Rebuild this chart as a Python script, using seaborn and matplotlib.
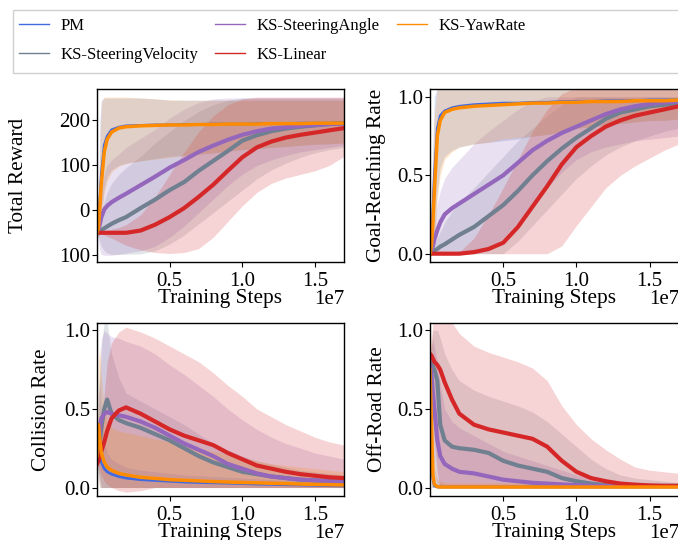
import matplotlib
matplotlib.use("Agg")
import matplotlib.pyplot as plt
from matplotlib.lines import Line2D
from matplotlib.patches import Rectangle
import seaborn as sns
import numpy as np

plt.rcParams['font.family'] = ['Liberation Serif', 'DejaVu Serif']

# ---------------- data (x in units of 1e7 training steps) ----------------
steps_1e7 = [0.0, 0.01, 0.02, 0.03, 0.05, 0.07, 0.1, 0.15, 0.2, 0.3, 0.4, 0.5,
             0.6, 0.7, 0.8, 0.9, 1.0, 1.1, 1.2, 1.3, 1.4, 1.5, 1.6, 1.7]

methods = ["PM", "KS-SteeringVelocity", "KS-SteeringAngle", "KS-Linear", "KS-YawRate"]
colors = ["#4169e1", "#708090", "#9467bd", "#d62728", "#ff8c00"]

# Total Reward
rew_pm = [-50, -30, 25, 80, 145, 165, 179, 185, 188, 189, 190, 190, 191, 191, 192, 192, 192, 193, 193, 193, 194, 194, 194, 195]
rew_sv = [-50, -48, -46, -44, -40, -36, -30, -22, -15, 5, 24, 45, 63, 88, 110, 132, 155, 167, 176, 182, 186, 189, 192, 194]
rew_sa = [-50, -42, -30, -15, 2, 10, 18, 28, 37, 56, 75, 95, 112, 130, 144, 157, 168, 176, 182, 185, 188, 190, 192, 193]
rew_lin = [-50, -50, -50, -50, -50, -50, -50, -50, -50, -45, -32, -15, 5, 30, 57, 88, 118, 140, 153, 162, 168, 173, 178, 183]
rew_yr = [-50, -40, 10, 60, 130, 158, 174, 183, 186, 188, 189, 190, 190, 191, 191, 192, 192, 192, 193, 193, 193, 194, 194, 194]

rew_pm_lo = [-50, -60, -40, 0, 50, 75, 90, 100, 105, 110, 115, 120, 122, 125, 128, 132, 135, 138, 140, 142, 145, 147, 148, 150]
rew_pm_hi = [-50, 0, 200, 245, 250, 250, 250, 250, 250, 250, 248, 245, 245, 245, 245, 245, 245, 245, 245, 245, 245, 245, 245, 245]
rew_sv_lo = [-50, -60, -70, -80, -90, -95, -98, -98, -98, -97, -90, -75, -55, -30, -5, 20, 45, 70, 90, 105, 118, 128, 135, 140]
rew_sv_hi = [-50, -40, -20, 0, 20, 40, 60, 80, 95, 120, 150, 175, 200, 220, 235, 245, 250, 250, 250, 250, 250, 250, 250, 250]
rew_sa_lo = [-50, -70, -90, -98, -100, -100, -100, -98, -95, -90, -80, -60, -35, -5, 25, 55, 80, 100, 112, 122, 130, 135, 140, 145]
rew_sa_hi = [-50, -20, 20, 50, 80, 100, 112, 125, 140, 160, 180, 205, 225, 240, 248, 250, 250, 250, 250, 250, 250, 250, 250, 250]
rew_lin_lo = [-50, -50, -50, -52, -55, -58, -62, -70, -78, -88, -94, -96, -94, -85, -60, -25, 10, 40, 60, 72, 80, 88, 100, 120]
rew_lin_hi = [-50, -50, -50, -48, -46, -44, -42, -38, -32, -10, 30, 80, 130, 175, 210, 235, 248, 252, 252, 252, 252, 252, 252, 252]
rew_yr_lo = [-50, -60, -50, -20, 40, 65, 85, 98, 104, 110, 114, 118, 122, 125, 128, 132, 135, 138, 140, 142, 145, 147, 148, 150]
rew_yr_hi = [-50, -10, 150, 240, 252, 252, 252, 252, 252, 250, 248, 246, 245, 245, 245, 245, 245, 245, 245, 245, 245, 245, 245, 245]

# Goal-Reaching Rate
goal_pm = [0, 0.06, 0.28, 0.5, 0.8, 0.88, 0.91, 0.93, 0.94, 0.95, 0.955, 0.96, 0.96, 0.965, 0.965, 0.97, 0.97, 0.97, 0.975, 0.975, 0.975, 0.98, 0.98, 0.98]
goal_sv = [0, 0.005, 0.01, 0.02, 0.03, 0.045, 0.06, 0.09, 0.12, 0.17, 0.24, 0.31, 0.4, 0.5, 0.59, 0.67, 0.74, 0.8, 0.86, 0.9, 0.92, 0.94, 0.95, 0.96]
goal_sa = [0, 0.02, 0.05, 0.09, 0.15, 0.2, 0.25, 0.29, 0.32, 0.38, 0.44, 0.5, 0.58, 0.66, 0.72, 0.77, 0.81, 0.85, 0.89, 0.92, 0.94, 0.955, 0.965, 0.97]
goal_lin = [0, 0, 0, 0, 0, 0, 0, 0, 0, 0.01, 0.03, 0.07, 0.17, 0.3, 0.43, 0.57, 0.68, 0.75, 0.81, 0.85, 0.88, 0.9, 0.92, 0.94]
goal_yr = [0, 0.05, 0.2, 0.4, 0.75, 0.85, 0.9, 0.92, 0.93, 0.94, 0.945, 0.95, 0.955, 0.96, 0.96, 0.965, 0.965, 0.97, 0.97, 0.97, 0.975, 0.975, 0.975, 0.98]

goal_pm_lo = [0, 0, 0, 0.1, 0.4, 0.55, 0.62, 0.66, 0.68, 0.7, 0.71, 0.72, 0.73, 0.75, 0.76, 0.78, 0.8, 0.81, 0.82, 0.83, 0.84, 0.85, 0.85, 0.86]
goal_pm_hi = [0, 0.3, 0.7, 1.0, 1.06, 1.06, 1.06, 1.06, 1.06, 1.06, 1.06, 1.06, 1.06, 1.06, 1.06, 1.06, 1.06, 1.06, 1.06, 1.06, 1.06, 1.06, 1.06, 1.06]
goal_sv_lo = [0, 0, 0, 0, 0, 0, 0, 0, 0, 0, 0, 0, 0.08, 0.18, 0.28, 0.38, 0.48, 0.56, 0.63, 0.68, 0.72, 0.75, 0.78, 0.8]
goal_sv_hi = [0, 0.02, 0.04, 0.06, 0.1, 0.14, 0.2, 0.27, 0.33, 0.42, 0.52, 0.62, 0.72, 0.8, 0.88, 0.95, 1.0, 1.0, 1.0, 1.0, 1.0, 1.0, 1.0, 1.0]
goal_sa_lo = [0, 0, 0, 0, 0, 0, 0, 0, 0, 0, 0.02, 0.1, 0.2, 0.3, 0.42, 0.52, 0.6, 0.65, 0.68, 0.7, 0.72, 0.73, 0.74, 0.75]
goal_sa_hi = [0, 0.05, 0.12, 0.2, 0.32, 0.4, 0.48, 0.55, 0.6, 0.7, 0.78, 0.85, 0.92, 0.97, 1.0, 1.0, 1.0, 1.0, 1.0, 1.0, 1.0, 1.0, 1.0, 1.0]
goal_lin_lo = [0, 0, 0, 0, 0, 0, 0, 0, 0, 0, 0, 0, 0, 0, 0, 0.05, 0.18, 0.3, 0.42, 0.5, 0.56, 0.61, 0.66, 0.7]
goal_lin_hi = [0, 0, 0, 0, 0, 0, 0, 0, 0.01, 0.1, 0.25, 0.42, 0.6, 0.78, 0.92, 1.02, 1.06, 1.06, 1.06, 1.06, 1.06, 1.06, 1.06, 1.06]
goal_yr_lo = [0, 0, 0, 0.05, 0.35, 0.5, 0.6, 0.65, 0.68, 0.7, 0.71, 0.73, 0.74, 0.75, 0.76, 0.78, 0.8, 0.81, 0.82, 0.83, 0.84, 0.85, 0.85, 0.86]
goal_yr_hi = [0, 0.2, 0.6, 0.9, 1.06, 1.06, 1.06, 1.06, 1.06, 1.06, 1.06, 1.06, 1.06, 1.06, 1.06, 1.06, 1.06, 1.06, 1.06, 1.06, 1.06, 1.06, 1.06, 1.06]

# Collision Rate
col_pm = [0.15, 0.3, 0.22, 0.16, 0.12, 0.1, 0.085, 0.07, 0.06, 0.05, 0.045, 0.04, 0.035, 0.032, 0.03, 0.028, 0.025, 0.022, 0.02, 0.018, 0.016, 0.014, 0.012, 0.01]
col_sv = [0.18, 0.22, 0.3, 0.38, 0.5, 0.56, 0.47, 0.43, 0.41, 0.38, 0.34, 0.3, 0.25, 0.2, 0.16, 0.13, 0.1, 0.085, 0.07, 0.06, 0.05, 0.045, 0.04, 0.036]
col_sa = [0.2, 0.28, 0.38, 0.44, 0.47, 0.48, 0.47, 0.46, 0.45, 0.42, 0.38, 0.33, 0.28, 0.24, 0.2, 0.15, 0.12, 0.09, 0.07, 0.06, 0.05, 0.045, 0.04, 0.036]
col_lin = [0.15, 0.17, 0.2, 0.23, 0.29, 0.36, 0.44, 0.49, 0.51, 0.47, 0.42, 0.37, 0.33, 0.3, 0.27, 0.22, 0.18, 0.14, 0.12, 0.1, 0.085, 0.075, 0.065, 0.06]
col_yr = [0.2, 0.4, 0.3, 0.22, 0.16, 0.13, 0.11, 0.09, 0.08, 0.065, 0.058, 0.05, 0.046, 0.042, 0.038, 0.035, 0.032, 0.03, 0.027, 0.025, 0.022, 0.02, 0.018, 0.016]

col_pm_lo = [0.15, 0.05, 0, 0, 0, 0, 0, 0, 0, 0, 0, 0, 0, 0, 0, 0, 0, 0, 0, 0, 0, 0, 0, 0]
col_pm_hi = [0.15, 0.6, 0.7, 0.5, 0.3, 0.22, 0.18, 0.15, 0.13, 0.11, 0.1, 0.09, 0.08, 0.075, 0.07, 0.065, 0.06, 0.055, 0.05, 0.045, 0.04, 0.035, 0.03, 0.03]
col_sv_lo = [0.18, 0.1, 0.05, 0, 0, 0, 0, 0, 0, 0, 0, 0, 0, 0, 0, 0, 0, 0, 0, 0, 0, 0, 0, 0]
col_sv_hi = [0.18, 0.4, 0.7, 0.9, 1.05, 1.05, 0.85, 0.7, 0.6, 0.55, 0.5, 0.45, 0.4, 0.34, 0.28, 0.24, 0.2, 0.17, 0.15, 0.13, 0.11, 0.1, 0.09, 0.08]
col_sa_lo = [0.2, 0.1, 0.05, 0, 0, 0, 0, 0, 0, 0, 0, 0, 0, 0, 0, 0, 0, 0, 0, 0, 0, 0, 0, 0]
col_sa_hi = [0.2, 0.5, 0.8, 0.95, 1.0, 0.98, 0.96, 0.95, 0.93, 0.9, 0.85, 0.78, 0.72, 0.65, 0.58, 0.5, 0.43, 0.37, 0.32, 0.28, 0.25, 0.22, 0.2, 0.18]
col_lin_lo = [0.15, 0.13, 0.1, 0.08, 0.04, 0.02, 0, -0.02, -0.03, -0.02, 0, 0, 0, 0, 0, 0, 0, 0, 0, 0, 0, 0, 0, 0]
col_lin_hi = [0.15, 0.2, 0.3, 0.42, 0.6, 0.8, 0.92, 0.99, 1.02, 0.99, 0.95, 0.9, 0.85, 0.8, 0.73, 0.65, 0.58, 0.5, 0.45, 0.4, 0.36, 0.32, 0.29, 0.27]
col_yr_lo = [0.2, 0.05, 0, 0, 0, 0, 0, 0, 0, 0, 0, 0, 0, 0, 0, 0, 0, 0, 0, 0, 0, 0, 0, 0]
col_yr_hi = [0.2, 0.8, 0.9, 0.7, 0.5, 0.42, 0.38, 0.36, 0.35, 0.33, 0.31, 0.29, 0.27, 0.25, 0.23, 0.21, 0.19, 0.17, 0.15, 0.14, 0.13, 0.12, 0.11, 0.1]

# Off-Road Rate
off_pm = [0.5, 0.2, 0.05, 0.01, 0.004, 0.003, 0.003, 0.003, 0.003, 0.003, 0.003, 0.003, 0.003, 0.003, 0.003, 0.003, 0.003, 0.003, 0.003, 0.003, 0.003, 0.003, 0.003, 0.003]
off_sv = [0.8, 0.79, 0.77, 0.75, 0.68, 0.4, 0.3, 0.26, 0.25, 0.24, 0.22, 0.17, 0.14, 0.12, 0.1, 0.06, 0.04, 0.025, 0.015, 0.012, 0.01, 0.01, 0.01, 0.01]
off_sa = [0.78, 0.72, 0.6, 0.5, 0.3, 0.2, 0.15, 0.12, 0.1, 0.09, 0.07, 0.05, 0.04, 0.03, 0.025, 0.02, 0.015, 0.01, 0.01, 0.01, 0.01, 0.01, 0.01, 0.01]
off_lin = [0.85, 0.84, 0.82, 0.8, 0.78, 0.75, 0.67, 0.56, 0.47, 0.4, 0.37, 0.35, 0.33, 0.31, 0.26, 0.17, 0.1, 0.06, 0.04, 0.025, 0.018, 0.013, 0.01, 0.01]
off_yr = [0.75, 0.4, 0.08, 0.02, 0.005, 0.003, 0.003, 0.003, 0.003, 0.003, 0.003, 0.003, 0.003, 0.003, 0.003, 0.003, 0.003, 0.003, 0.003, 0.003, 0.003, 0.003, 0.003, 0.003]

off_pm_lo = [0.5, 0, 0, 0, 0, 0, 0, 0, 0, 0, 0, 0, 0, 0, 0, 0, 0, 0, 0, 0, 0, 0, 0, 0]
off_pm_hi = [0.5, 0.8, 0.4, 0.12, 0.05, 0.03, 0.02, 0.02, 0.02, 0.02, 0.02, 0.02, 0.02, 0.02, 0.02, 0.02, 0.02, 0.02, 0.02, 0.02, 0.02, 0.02, 0.02, 0.02]
off_sv_lo = [0.8, 0.6, 0.4, 0.2, 0.05, 0, 0, 0, 0, 0, 0, 0, 0, 0, 0, 0, 0, 0, 0, 0, 0, 0, 0, 0]
off_sv_hi = [0.8, 0.9, 1.0, 1.0, 1.0, 0.95, 0.85, 0.75, 0.68, 0.62, 0.58, 0.55, 0.52, 0.48, 0.42, 0.34, 0.26, 0.18, 0.12, 0.08, 0.06, 0.05, 0.04, 0.03]
off_sa_lo = [0.78, 0.5, 0.25, 0.1, 0, 0, 0, 0, 0, 0, 0, 0, 0, 0, 0, 0, 0, 0, 0, 0, 0, 0, 0, 0]
off_sa_hi = [0.78, 0.9, 0.95, 0.9, 0.8, 0.65, 0.5, 0.42, 0.38, 0.33, 0.28, 0.23, 0.2, 0.17, 0.14, 0.11, 0.08, 0.06, 0.05, 0.04, 0.035, 0.03, 0.03, 0.03]
off_lin_lo = [0.85, 0.7, 0.5, 0.3, 0.1, 0, 0, 0, 0, 0, 0, 0, 0, 0, 0, 0, 0, 0, 0, 0, 0, 0, 0, 0]
off_lin_hi = [0.85, 0.95, 1.05, 1.05, 1.05, 1.05, 1.05, 1.05, 0.98, 0.9, 0.86, 0.83, 0.8, 0.76, 0.68, 0.52, 0.4, 0.31, 0.24, 0.18, 0.13, 0.11, 0.1, 0.09]
off_yr_lo = [0.75, 0, 0, 0, 0, 0, 0, 0, 0, 0, 0, 0, 0, 0, 0, 0, 0, 0, 0, 0, 0, 0, 0, 0]
off_yr_hi = [0.75, 1.0, 0.6, 0.2, 0.06, 0.04, 0.03, 0.03, 0.03, 0.03, 0.03, 0.03, 0.03, 0.03, 0.03, 0.03, 0.03, 0.03, 0.03, 0.03, 0.03, 0.03, 0.03, 0.03]

panels = [
    ("Total Reward", [rew_pm, rew_sv, rew_sa, rew_lin, rew_yr],
     [rew_pm_lo, rew_sv_lo, rew_sa_lo, rew_lin_lo, rew_yr_lo],
     [rew_pm_hi, rew_sv_hi, rew_sa_hi, rew_lin_hi, rew_yr_hi]),
    ("Goal-Reaching Rate", [goal_pm, goal_sv, goal_sa, goal_lin, goal_yr],
     [goal_pm_lo, goal_sv_lo, goal_sa_lo, goal_lin_lo, goal_yr_lo],
     [goal_pm_hi, goal_sv_hi, goal_sa_hi, goal_lin_hi, goal_yr_hi]),
    ("Collision Rate", [col_pm, col_sv, col_sa, col_lin, col_yr],
     [col_pm_lo, col_sv_lo, col_sa_lo, col_lin_lo, col_yr_lo],
     [col_pm_hi, col_sv_hi, col_sa_hi, col_lin_hi, col_yr_hi]),
    ("Off-Road Rate", [off_pm, off_sv, off_sa, off_lin, off_yr],
     [off_pm_lo, off_sv_lo, off_sa_lo, off_lin_lo, off_yr_lo],
     [off_pm_hi, off_sv_hi, off_sa_hi, off_lin_hi, off_yr_hi]),
]

# ---------------- figure ----------------
W, H = 678, 540
fig = plt.figure(figsize=(W / 100, H / 100), dpi=100)

def frac_rect(x0, y0, x1, y1):
    return [x0 / W, 1 - y1 / H, (x1 - x0) / W, (y1 - y0) / H]

rects = [frac_rect(97, 89, 344, 262), frac_rect(430, 89, 679, 262),
         frac_rect(97, 323, 344, 496), frac_rect(430, 323, 679, 496)]
label_x = [-0.28, -0.177, -0.186, -0.173]
ylims = [(-115, 270), (-0.053, 1.05), (-0.054, 1.047), (-0.054, 1.047)]
linewidths = [2.0, 3.0, 3.0, 3.0, 2.5]

x = np.array(steps_1e7) * 1e7
FS = 15.3
TFS = 15

for i, (ylabel, means, los, his) in enumerate(panels):
    ax = fig.add_axes(rects[i])
    for m, c, mean, lo, hi, lw in zip(methods, colors, means, los, his, linewidths):
        ax.fill_between(x, lo, hi, color=c, alpha=0.2, linewidth=0)
    for m, c, mean, lo, hi, lw in zip(methods, colors, means, los, his, linewidths):
        sns.lineplot(x=x, y=mean, color=c, linewidth=lw, ax=ax, legend=False)
    ax.set_xlim(0, 1.7e7)
    ax.set_ylim(*ylims[i])
    ax.set_xticks([0.5e7, 1.0e7, 1.5e7])
    if i == 0:
        ax.set_yticks([-100, 0, 100, 200])
        ax.set_yticklabels(["100", "0", "100", "200"])
    else:
        ax.set_yticks([0, 0.5, 1.0])
        ax.set_yticklabels(["0.0", "0.5", "1.0"])
    ax.tick_params(axis="x", labelsize=TFS, pad=4, length=3.5)
    ax.tick_params(axis="y", labelsize=TFS, pad=1.5, length=3.5)
    ax.xaxis.get_offset_text().set_visible(False)
    ax.text(1.0, -0.16, "1e7", transform=ax.transAxes, ha="right", va="top", fontsize=TFS)
    ax.set_xlabel("Training Steps", fontsize=FS)
    ax.xaxis.set_label_coords(0.5, -0.158)
    ax.set_ylabel(ylabel, fontsize=FS)
    ax.yaxis.set_label_coords(label_x[i], 0.5)
    for s in ax.spines.values():
        s.set_linewidth(1.0)

LFS = 12
handles = [Line2D([0], [0], color=c, lw=1.0) for c in colors]
leg = fig.legend(handles, methods, loc="upper left", bbox_to_anchor=(19 / W, 1 - 18 / H),
                 ncol=3, frameon=False, fontsize=LFS, borderpad=0, borderaxespad=0,
                 handlelength=1.8, handletextpad=0.7, columnspacing=1.0, labelspacing=0.8)
fig.patches.append(Rectangle((13 / W, 1 - 73 / H), 1.0, 63 / H, transform=fig.transFigure,
                             fill=False, edgecolor="#d0d0d0", linewidth=1.0))

fig.savefig("out.png", dpi=100)
